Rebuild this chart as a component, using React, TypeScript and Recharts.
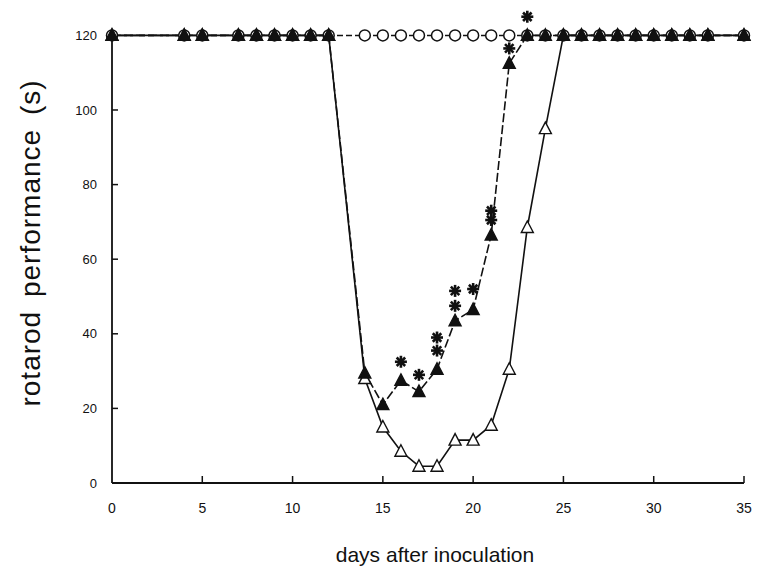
import { ComposedChart, Label, Line, ReferenceLine, Scatter, XAxis, YAxis } from "recharts";

// 관찰일 (0일 = 접종일). 13일, 34일은 측정하지 않음
const DAYS = [0, 4, 5, 7, 8, 9, 10, 11, 12, 14, 15, 16, 17, 18, 19, 20, 21, 22, 23, 24, 25, 26, 27, 28, 29, 30, 31, 32, 33, 35];

// ○ 대조군
const CONTROL = [120, 120, 120, 120, 120, 120, 120, 120, 120, 120, 120, 120, 120, 120, 120, 120, 120, 120, 120, 120, 120, 120, 120, 120, 120, 120, 120, 120, 120, 120];
// ▲ 처치군
const TREATED = [120, 120, 120, 120, 120, 120, 120, 120, 120, 29.5, 21, 27.5, 24.5, 30.5, 43.5, 46.5, 66.5, 112.5, 120, 120, 120, 120, 120, 120, 120, 120, 120, 120, 120, 120];
// △ 비처치군
const UNTREATED = [120, 120, 120, 120, 120, 120, 120, 120, 120, 28, 15, 8.5, 4.5, 4.5, 11.5, 11.5, 15.5, 30.5, 68.5, 95, 120, 120, 120, 120, 120, 120, 120, 120, 120, 120];

// 유의차 표시(*) 위치
const SIG_DAYS = [16, 17, 18, 18, 19, 19, 20, 21, 21, 22, 23];
const SIG_VALUES = [32.5, 29, 39, 35.5, 51.5, 47.5, 52, 73, 70.5, 116.5, 125];

const X_TICKS = [0, 5, 10, 15, 20, 25, 30, 35];
const Y_TICKS = [0, 20, 40, 60, 80, 100, 120];

const INK = "#111";
const FONT = '"Liberation Sans", Arial, Helvetica, sans-serif';

const data = DAYS.map((day, i) => ({
  day,
  control: CONTROL[i],
  treated: TREATED[i],
  untreated: UNTREATED[i],
}));
const sigData = SIG_DAYS.map((day, i) => ({ day, value: SIG_VALUES[i] }));

function Circle({ cx, cy }: any) {
  if (cx == null || cy == null) return null;
  return <circle cx={cx} cy={cy} r={5.5} fill="#fff" stroke={INK} strokeWidth={1.5} />;
}

function Triangle({ cx, cy, filled }: any) {
  if (cx == null || cy == null) return null;
  const d = `M${cx},${cy - 6.5} L${cx + 6},${cy + 5} L${cx - 6},${cy + 5} Z`;
  return <path d={d} fill={filled ? INK : "#fff"} stroke={INK} strokeWidth={1.4} strokeLinejoin="miter" />;
}

function Asterisk({ cx, cy }: any) {
  if (cx == null || cy == null) return null;
  const r = 6;
  const arms = [0, 45, 90, 135].map((deg) => {
    const a = (deg * Math.PI) / 180;
    const dx = Math.cos(a) * r;
    const dy = Math.sin(a) * r;
    return <line key={deg} x1={cx - dx} y1={cy - dy} x2={cx + dx} y2={cy + dy} stroke={INK} strokeWidth={2.6} />;
  });
  return <g>{arms}</g>;
}

// 눈금선은 축 안쪽으로
function XTick({ x, y, payload }: any) {
  return (
    <g>
      {payload.value !== 0 && <line x1={x} x2={x} y1={y} y2={y - 7} stroke={INK} strokeWidth={1.5} />}
      <text x={x} y={y + 30} textAnchor="middle" fontSize={14} fontFamily={FONT} fill={INK}>
        {payload.value}
      </text>
    </g>
  );
}

function YTick({ x, y, payload }: any) {
  return (
    <g>
      {payload.value !== 0 && payload.value !== 120 && (
        <line x1={x} x2={x + 6} y1={y} y2={y} stroke={INK} strokeWidth={1.5} />
      )}
      <text x={x - 15} y={y} dy="0.36em" textAnchor="end" fontSize={13} fontFamily={FONT} fill={INK}>
        {payload.value}
      </text>
    </g>
  );
}

function XTitle({ viewBox }: any) {
  return (
    <text
      x={viewBox.x + viewBox.width / 2 + 7}
      y={viewBox.y + 79}
      textAnchor="middle"
      fontSize={21}
      fontFamily={FONT}
      fill={INK}
    >
      days after inoculation
    </text>
  );
}

function YTitle({ viewBox }: any) {
  const cx = viewBox.x + 30;
  const cy = 243;
  return (
    <text
      x={cx}
      y={cy}
      transform={`rotate(-90, ${cx}, ${cy})`}
      textAnchor="middle"
      dominantBaseline="central"
      fontSize={28}
      letterSpacing={1}
      wordSpacing={5}
      fontFamily={FONT}
      fill={INK}
    >
      rotarod performance (s)
    </text>
  );
}

export default function App() {
  return (
    <div style={{ width: 760, height: 578, background: "#fff" }}>
      <style>{"body{margin:0}"}</style>
      <ComposedChart width={760} height={578} data={data} margin={{ top: 13, right: 16, bottom: 0, left: 0 }}>
        <XAxis
          dataKey="day"
          type="number"
          domain={[0, 35]}
          ticks={X_TICKS}
          interval={0}
          height={95}
          tickSize={0}
          tickMargin={0}
          tickLine={false}
          axisLine={{ stroke: INK, strokeWidth: 1.8 }}
          tick={<XTick />}
        >
          <Label content={<XTitle />} />
        </XAxis>
        <YAxis
          type="number"
          domain={[0, 126]}
          ticks={Y_TICKS}
          interval={0}
          width={112}
          tickSize={0}
          tickMargin={0}
          tickLine={false}
          axisLine={false}
          tick={<YTick />}
        >
          <Label content={<YTitle />} />
        </YAxis>
        <ReferenceLine
          segment={[
            { x: 0, y: 0 },
            { x: 0, y: 120 },
          ]}
          stroke={INK}
          strokeWidth={1.8}
        />
        <Line
          dataKey="control"
          stroke={INK}
          strokeWidth={1.5}
          strokeDasharray="6 3"
          isAnimationActive={false}
          dot={(p: any) => <Circle key={`c-${p.index}`} cx={p.cx} cy={p.cy} />}
        />
        <Line
          dataKey="untreated"
          stroke={INK}
          strokeWidth={1.6}
          isAnimationActive={false}
          dot={(p: any) => <Triangle key={`u-${p.index}`} cx={p.cx} cy={p.cy} />}
        />
        <Line
          dataKey="treated"
          stroke={INK}
          strokeWidth={1.6}
          strokeDasharray="9 3"
          isAnimationActive={false}
          dot={(p: any) => <Triangle key={`t-${p.index}`} cx={p.cx} cy={p.cy} filled />}
        />
        <Scatter data={sigData} dataKey="value" isAnimationActive={false} shape={<Asterisk />} />
      </ComposedChart>
    </div>
  );
}
